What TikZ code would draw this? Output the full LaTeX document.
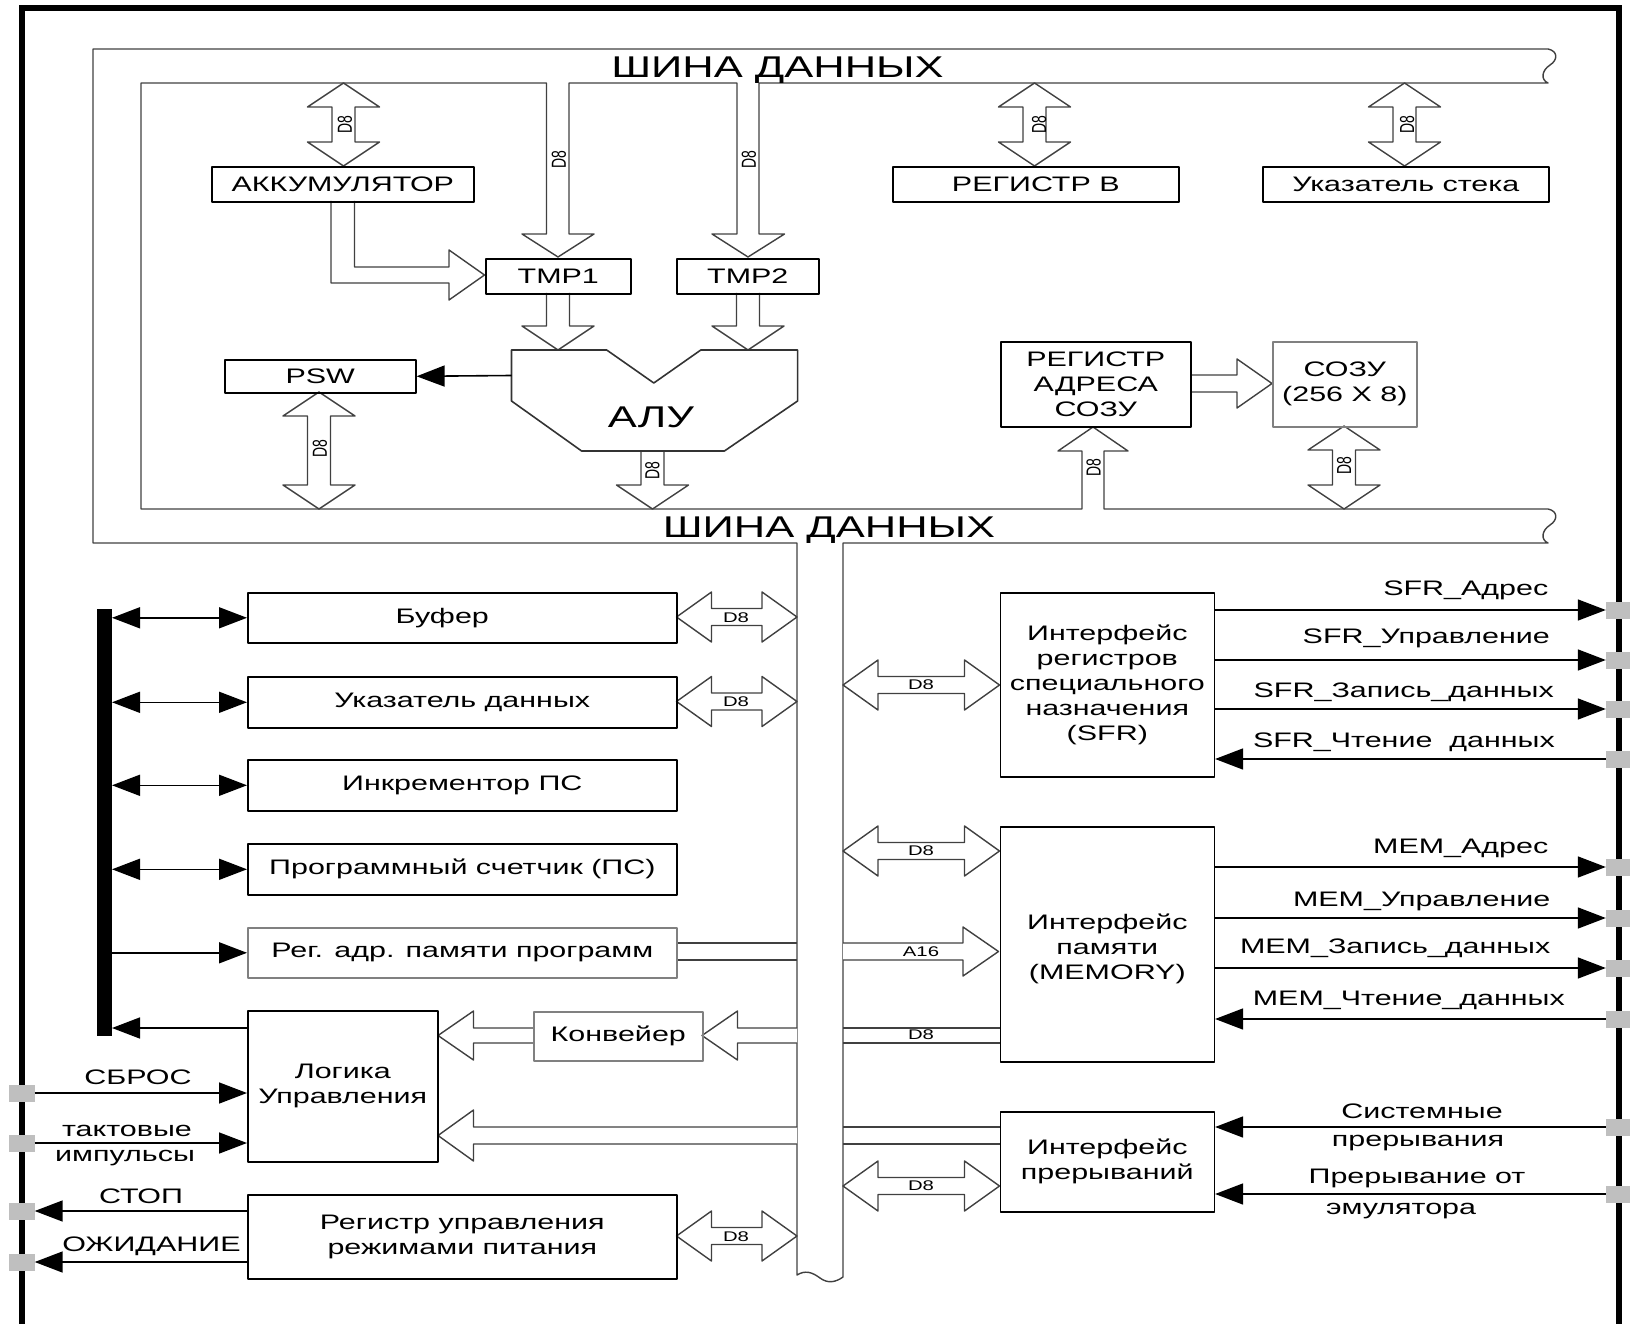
\documentclass[tikz,border=0pt]{standalone}
\usepackage{graphicx}
\usepackage{fontspec}
\setmainfont{Liberation Sans}[FakeStretch=1.45]
\newfontfamily\rotfont{Liberation Sans}
\usetikzlibrary{arrows.meta}

% 竖直双向宽箭头：x，上端，下端
\newcommand{\dblV}[3]{%
  \draw[fat] (#1,#2) -- (#1+36,#2+24) -- (#1+11.5,#2+24) -- (#1+11.5,#3-24)
    -- (#1+36,#3-24) -- (#1,#3) -- (#1-36,#3-24) -- (#1-11.5,#3-24)
    -- (#1-11.5,#2+24) -- (#1-36,#2+24) -- cycle;}
% 水平双向宽箭头：左端，右端，y
\newcommand{\dblH}[3]{%
  \draw[fat] (#1,#3) -- (#1+35,#3-25) -- (#1+35,#3-8.5) -- (#2-35,#3-8.5)
    -- (#2-35,#3-25) -- (#2,#3) -- (#2-35,#3+25) -- (#2-35,#3+8.5)
    -- (#1+35,#3+8.5) -- (#1+35,#3+25) -- cycle;}
% 向下的宽箭头：x，尾部，尖端
\newcommand{\downV}[3]{%
  \draw[fat] (#1-11.5,#2) -- (#1-11.5,#3-24) -- (#1-36,#3-24) -- (#1,#3)
    -- (#1+36,#3-24) -- (#1+11.5,#3-24) -- (#1+11.5,#2);}
% 向左的宽箭头：尾部，尖端，上线，下线
\newcommand{\leftH}[4]{%
  \draw[fat] (#1,#3) -- (#2+35.5,#3) -- (#2+35.5,#3-17) -- (#2,{(#3+#4)/2})
    -- (#2+35.5,#4+17) -- (#2+35.5,#4) -- (#1,#4);}
% 竖排的 D8
\newcommand{\rD}{\scalebox{1}[1.45]{\rotfont\fontsize{14}{16}\selectfont D8}}

\begin{document}
\begin{tikzpicture}[
        x=1pt, y=-1pt,
        line join=round,
        box/.style={draw, line width=1.6pt, inner sep=0pt, align=center,
            font=\fontsize{21}{25}\selectfont},
        gbox/.style={box, draw=black!50},
        fat/.style={draw=black!75, line width=1.4pt, fill=white},
        bus/.style={draw=black!75, line width=1.4pt},
        sig/.style={line width=1.6pt, -{Triangle[length=28pt,width=21pt]}},
        sigb/.style={line width=1.6pt,
            {Triangle[length=28pt,width=21pt]}-{Triangle[length=28pt,width=21pt]}},
        padsq/.style={fill=black!25, minimum width=26pt, minimum height=17pt, inner sep=0pt},
        lbl/.style={font=\fontsize{14}{16}\selectfont, inner sep=0pt},
        rlbl/.style={inner sep=0pt, rotate=90},
        txt/.style={font=\fontsize{21}{25}\selectfont, inner sep=0pt},
        big/.style={font=\fontsize{30}{34}\selectfont, inner sep=0pt}
    ]
        \useasboundingbox (0,0) rectangle (1630,1324);

        % 外框
        \draw[line width=6pt, line join=miter] (21.5,1324) -- (21.5,8) -- (1619,8) -- (1619,1324);

        % 数据总线（上、下两条和竖直部分）
        \draw[bus] (797,1275) -- (797,543) -- (93,543) -- (93,49) -- (1548,49)
            .. controls (1558,51) and (1558,60) .. (1550,65)
            .. controls (1541,71) and (1541,80) .. (1548,83)
            -- (759,83) -- (759,234) -- (784.5,234) -- (748,257) -- (712,234) -- (737,234) -- (737,83)
            -- (569,83) -- (569,234) -- (594,234) -- (558,257) -- (522,234) -- (546.5,234) -- (546.5,83)
            -- (141,83) -- (141,509) -- (1082,509)
            -- (1082,451) -- (1058,451) -- (1093,427) -- (1128,451) -- (1104,451) -- (1104,509)
            -- (1548,509)
            .. controls (1558,511) and (1558,520) .. (1550,525)
            .. controls (1541,531) and (1541,540) .. (1548,543)
            -- (843,543) -- (843,1277)
            .. controls (836,1282) and (828,1284) .. (820,1278)
            .. controls (812,1272) and (805,1270) .. (797,1275) -- cycle;
        \node[big, anchor=base] (busT) at (777.5,78) {ШИНА ДАННЫХ};
        \node[big, anchor=base] (busB) at (829,537) {ШИНА ДАННЫХ};

        % 上部的宽箭头
        \dblV{343.5}{83}{166}
        \dblV{1034.5}{83}{166}
        \dblV{1404.5}{83}{166}
        \dblV{319}{392}{509}
        \dblV{1344}{426}{509}
        \downV{558}{293}{350}
        \downV{748}{293}{350}
        \downV{652.5}{451}{509}
        \draw[fat] (331,201) -- (331,283) -- (449,283) -- (449,300) -- (484.5,275)
            -- (449,250) -- (449,267) -- (354.5,267) -- (354.5,201);
        \draw[fat] (1190,375) -- (1237,375) -- (1237,359) -- (1272,383.5)
            -- (1237,408) -- (1237,392) -- (1190,392);

        % АЛУ
        \draw[draw=black!80, line width=1.6pt] (511.5,350) -- (606.7,350) -- (653.8,383)
            -- (700.8,350) -- (797.6,350) -- (797.6,401) -- (724.4,451) -- (581.6,451)
            -- (511.5,401) -- cycle;
        \node[big, anchor=base] (alu) at (651,427) {АЛУ};

        % 上部的寄存器
        \node[box, anchor=north west, minimum width=262pt, minimum height=35pt] (acc) at (211,166) {АККУМУЛЯТОР};
        \node[box, anchor=north west, minimum width=145pt, minimum height=35pt] (tmpA) at (485,258) {TMP1};
        \node[box, anchor=north west, minimum width=142pt, minimum height=35pt] (tmpB) at (676,258) {TMP2};
        \node[box, anchor=north west, minimum width=191pt, minimum height=33pt] (psw) at (224,359) {PSW};
        \node[box, anchor=north west, minimum width=286pt, minimum height=35pt] (regb) at (892,166) {РЕГИСТР В};
        \node[box, anchor=north west, minimum width=286pt, minimum height=35pt] (sp) at (1262,166) {Указатель стека};
        \node[box, anchor=north west, minimum width=190pt, minimum height=85pt] (rar) at (1000,341) {РЕГИСТР\\АДРЕСА\\СОЗУ};
        \node[gbox, anchor=north west, minimum width=144pt, minimum height=85pt] (ram) at (1272,341) {СОЗУ\\(256 X 8)};
        \coordinate (aluW) at (511.5,375.5);
        \draw[sig] (aluW) -- (psw.east);

        % 上部的 D8
        \node[rlbl] (dAcc) at (345,125) {\rD};
        \node[rlbl] (dTa) at (559,160) {\rD};
        \node[rlbl] (dTb) at (749,160) {\rD};
        \node[rlbl] (dRb) at (1039,125) {\rD};
        \node[rlbl] (dSp) at (1407,125) {\rD};
        \node[rlbl] (dPsw) at (320,449) {\rD};
        \node[rlbl] (dAlu) at (652.5,471) {\rD};
        \node[rlbl] (dRar) at (1093.5,468) {\rD};
        \node[rlbl] (dRam) at (1344,466) {\rD};

        % 下部左侧的宽箭头
        \dblH{676.5}{797}{617}
        \dblH{676.5}{797}{701.5}
        \dblH{676.5}{797}{1236}
        \draw[bus] (676,943) -- (797,943);
        \draw[bus] (676,960) -- (797,960);
        \leftH{797}{702}{1028}{1043}
        \leftH{533}{438}{1028}{1043}
        \leftH{797}{438}{1127}{1144}

        % 下部右侧的宽箭头
        \dblH{843}{999.5}{685}
        \dblH{843}{999.5}{851}
        \dblH{843}{999.5}{1186}
        \draw[fat] (843,943) -- (963,943) -- (963,927) -- (998.5,951.5) -- (963,976)
            -- (963,960) -- (843,960);
        \draw[bus] (843,1028) -- (999.5,1028);
        \draw[bus] (843,1043) -- (999.5,1043);
        \draw[bus] (843,1127) -- (999.5,1127);
        \draw[bus] (843,1144) -- (999.5,1144);

        % 下部的 D8 / A16
        \node[lbl] (dBuf) at (736,618) {D8};
        \node[lbl] (dDp) at (736,702) {D8};
        \node[lbl] (dPwr) at (736,1237) {D8};
        \node[lbl] (dSfr) at (921,685) {D8};
        \node[lbl] (dMem) at (921,851) {D8};
        \node[lbl] (aMem) at (921,952) {A16};
        \node[lbl] (dMemR) at (921,1035) {D8};
        \node[lbl] (dIrq) at (921,1186) {D8};

        % 下部的方框
        \node[box, anchor=north west, minimum width=429pt, minimum height=50pt] (buf) at (247,592) {Буфер\hspace*{40pt}};
        \node[box, anchor=north west, minimum width=429pt, minimum height=51pt] (dptr) at (247,676) {Указатель данных};
        \node[box, anchor=north west, minimum width=429pt, minimum height=51pt] (inc) at (247,759) {Инкрементор ПС};
        \node[box, anchor=north west, minimum width=429pt, minimum height=51pt] (pc) at (247,843) {Программный счетчик (ПС)};
        \node[gbox, anchor=north west, minimum width=429pt, minimum height=50pt] (rapp) at (247,927) {Рег. адр. памяти программ};
        \node[box, anchor=north west, minimum width=190pt, minimum height=151pt] (ctl) at (247,1010) {Логика\\Управления};
        \node[gbox, anchor=north west, minimum width=169pt, minimum height=49pt] (conv) at (533,1011) {Конвейер};
        \node[box, anchor=north west, minimum width=429pt, minimum height=84pt] (pwr) at (247,1194) {Регистр управления\\режимами питания};
        \node[box, anchor=north west, minimum width=214pt, minimum height=184pt] (sfr) at (999.5,592)
            {Интерфейс\\регистров\\специального\\назначения\\(SFR)};
        \node[box, anchor=north west, minimum width=214pt, minimum height=235pt] (mem) at (999.5,826) {};
        \node[txt, align=center] (memT) at ([yshift=-5pt]mem.center) {Интерфейс\\памяти\\(MEMORY)};
        \node[box, anchor=north west, minimum width=214pt, minimum height=100pt] (irq) at (999.5,1111)
            {Интерфейс\\прерываний};

        % 控制总线
        \fill (97,609) rectangle (112,1036);
        \coordinate (bar) at (112,0);
        \foreach \b in {buf,dptr,inc,pc}
            \draw[sigb] (bar |- \b.west) -- (\b.west);
        \draw[sig] (bar |- rapp.west) -- (rapp.west);
        \coordinate (ctlout) at (247,1028);
        \draw[sig] (ctlout) -- (bar |- ctlout);

        % 左侧引脚
        \node[padsq] (rst) at (21.5,1093) {};
        \node[padsq] (clk) at (21.5,1143) {};
        \node[padsq] (stp) at (21.5,1211) {};
        \node[padsq] (idl) at (21.5,1262) {};
        \draw[sig] (rst.east) -- (rst -| ctl.west);
        \draw[sig] (clk.east) -- (clk -| ctl.west);
        \draw[sig] (stp -| pwr.west) -- (stp.east);
        \draw[sig] (idl -| pwr.west) -- (idl.east);
        \node[txt, anchor=base] (tRst) at (138,1084) {СБРОС};
        \node[txt, anchor=base] (tClkA) at (127,1136) {тактовые};
        \node[txt, anchor=base] (tClkB) at (125,1161) {импульсы};
        \node[txt, anchor=base] (tStp) at (141,1203) {СТОП};
        \node[txt, anchor=base] (tIdl) at (151.5,1251) {ОЖИДАНИЕ};

        % 右侧引脚
        \foreach \n/\yy in {sfrA/610, sfrB/660, sfrC/709, sfrD/759, memA/867,
                memB/918, memC/968, memD/1019, irqA/1127, irqB/1194}
            \node[padsq] (\n) at (1619,\yy) {};
        \foreach \n in {sfrA,sfrB,sfrC}
            \draw[sig] (\n -| sfr.east) -- (\n.west);
        \draw[sig] (sfrD.west) -- (sfrD -| sfr.east);
        \foreach \n in {memA,memB,memC}
            \draw[sig] (\n -| mem.east) -- (\n.west);
        \draw[sig] (memD.west) -- (memD -| mem.east);
        \draw[sig] (irqA.west) -- (irqA -| irq.east);
        \draw[sig] (irqB.west) -- (irqB -| irq.east);

        \node[txt, anchor=base east] (tSfrA) at (1548.5,595) {SFR\_Адрес};
        \node[txt, anchor=base east] (tSfrB) at (1550,643) {SFR\_Управление};
        \node[txt, anchor=base east] (tSfrC) at (1554,697) {SFR\_Запись\_данных};
        \node[txt, anchor=base east] (tSfrD) at (1555,747) {SFR\_Чтение\ \ данных};
        \node[txt, anchor=base east] (tMemA) at (1548.5,853) {MEM\_Адрес};
        \node[txt, anchor=base east] (tMemB) at (1550.5,906) {MEM\_Управление};
        \node[txt, anchor=base east] (tMemC) at (1550.5,953) {MEM\_Запись\_данных};
        \node[txt, anchor=base east] (tMemD) at (1565,1005) {MEM\_Чтение\_данных};
        \node[txt, anchor=base] (tIrqA) at (1422,1118) {Системные};
        \node[txt, anchor=base] (tIrqB) at (1418,1146) {прерывания};
        \node[txt, anchor=base] (tIrqC) at (1417,1183) {Прерывание от};
        \node[txt, anchor=base] (tIrqD) at (1401,1214) {эмулятора};
    \end{tikzpicture}
\end{document}
